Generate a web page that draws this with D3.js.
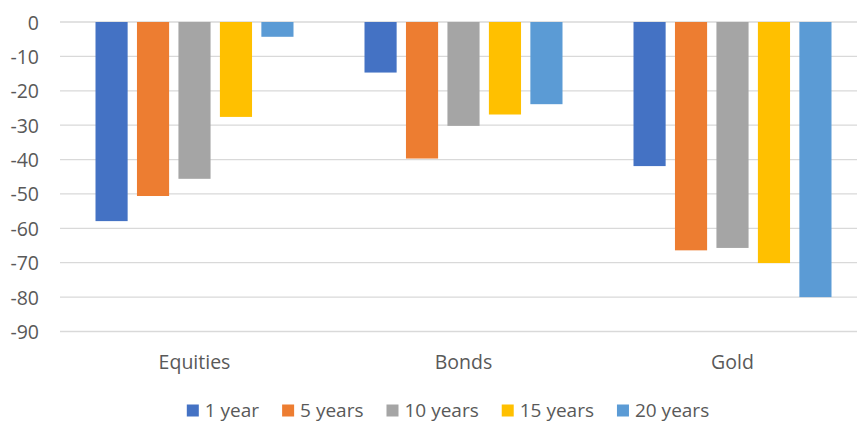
<!DOCTYPE html>
<html>
<head>
<meta charset="utf-8">
<script src="https://cdn.jsdelivr.net/npm/d3@7"></script>
<style>
  body { margin: 0; background: #fff; }
  svg { display: block; font-family: "Open Sans", sans-serif; }
</style>
</head>
<body>
<svg id="chart"></svg>
<script>
const categories = ['Equities', 'Bonds', 'Gold'];
const seriesNames = ['1 year', '5 years', '10 years', '15 years', '20 years'];
const seriesColors = ['#4472C4', '#ED7D31', '#A5A5A5', '#FFC000', '#5B9BD5'];
// one row per series, one value per category
const values = [
    [-57.9, -14.7, -41.9],
    [-50.6, -39.7, -66.4],
    [-45.6, -30.2, -65.7],
    [-27.6, -26.9, -70.1],
    [-4.3, -23.9, -80.0]
];
const yTicks = [0, -10, -20, -30, -40, -50, -60, -70, -80, -90];

const width = 857, height = 422;
const svg = d3.select('#chart').attr('width', width).attr('height', height);

const x0 = d3.scaleBand().domain(categories).range([60, 867]);
const x1 = d3.scaleBand().domain(seriesNames)
    .range([35.5, x0.bandwidth() - 35.5])
    .paddingInner(0.225);
const y = d3.scaleLinear().domain([-90, 0]).range([331.5, 22]);

// gridlines
svg.append('g')
    .selectAll('line')
    .data(yTicks)
    .join('line')
    .attr('x1', 60).attr('x2', 867)
    .attr('y1', d => y(d)).attr('y2', d => y(d))
    .attr('stroke', '#D9D9D9')
    .attr('stroke-width', 1.3);

// y axis labels (plain hyphen like the original)
const yAxis = d3.axisLeft(y).tickValues(yTicks).tickSize(0).tickPadding(0)
    .tickFormat(d => String(d));
svg.append('g')
    .attr('transform', 'translate(39,0)')
    .call(yAxis)
    .call(g => g.select('.domain').remove())
    .call(g => g.selectAll('text')
        .attr('fill', '#595959')
        .attr('dy', '0.36em')
        .style('font-size', '19.5px')
        .style('font-family', '"Open Sans", sans-serif'));

// bars
const rows = [];
values.forEach((row, si) => row.forEach((v, ci) => rows.push({s: si, c: ci, v: v})));
svg.append('g')
    .selectAll('rect')
    .data(rows)
    .join('rect')
    .attr('x', d => x0(categories[d.c]) + x1(seriesNames[d.s]))
    .attr('width', x1.bandwidth())
    .attr('y', y(0))
    .attr('height', d => y(d.v) - y(0))
    .attr('fill', d => seriesColors[d.s]);

// category labels
svg.append('g')
    .selectAll('text')
    .data(categories)
    .join('text')
    .attr('x', d => x0(d) + x0.bandwidth() / 2)
    .attr('y', 369)
    .attr('text-anchor', 'middle')
    .attr('fill', '#595959')
    .style('font-size', '19.5px')
    .text(d => d);

// legend
const legend = svg.append('g');
let lx = 0;
seriesNames.forEach((name, i) => {
    const item = legend.append('g').attr('transform', `translate(${lx},0)`);
    item.append('rect')
        .attr('x', 0).attr('y', 404.5)
        .attr('width', 12).attr('height', 12)
        .attr('fill', seriesColors[i]);
    const t = item.append('text')
        .attr('x', 18).attr('y', 416.5)
        .attr('fill', '#595959')
        .style('font-size', '19px')
        .text(name);
    lx += 18 + t.node().getComputedTextLength() + 23;
});
const legendWidth = lx - 23;
legend.attr('transform', `translate(${448 - legendWidth / 2},0)`);
</script>
</body>
</html>
